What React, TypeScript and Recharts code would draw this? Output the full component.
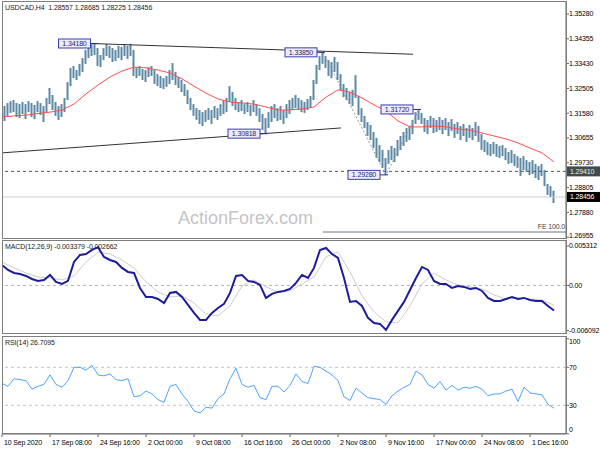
import React from 'react'
import { ComposedChart, LineChart, Line, Bar, XAxis, YAxis, ReferenceLine, ReferenceDot } from 'recharts'

const FONT = '"Liberation Sans", Arial, sans-serif'
const FS = 7

// H4 bar index of each time label (one label every 32 bars)
const timeTicks = [0, 32, 64, 96, 128, 160, 192, 224, 256, 288, 320, 352]
const timeLabels = ['10 Sep 2020', '17 Sep 08:00', '24 Sep 16:00', '2 Oct 00:00', '9 Oct 08:00', '16 Oct 16:00', '26 Oct 00:00', '2 Nov 08:00', '9 Nov 16:00', '17 Nov 00:00', '24 Nov 08:00', '1 Dec 16:00']

const priceTicks = [1.26955, 1.2788, 1.28805, 1.2973, 1.30655, 1.3158, 1.32505, 1.3343, 1.34355, 1.3528]
const macdTicks = [-0.006092, 0, 0.005312]
const rsiTicks = [0, 30, 70, 100]

// price range, one entry every 2 bars
const priceHigh = [
  1.3192, 1.3185, 1.3196, 1.3203, 1.3207, 1.3196, 1.3192, 1.32, 1.3192, 1.3203,
  1.3196, 1.3189, 1.3203, 1.3196, 1.3185, 1.3215, 1.3252, 1.3226, 1.32, 1.3185,
  1.3192, 1.3215, 1.3274, 1.3327, 1.3334, 1.3319, 1.3342, 1.3364, 1.3394, 1.3401,
  1.3416, 1.3418, 1.3401, 1.3375, 1.3401, 1.3416, 1.3409, 1.3401, 1.3394, 1.3409,
  1.3405, 1.3416, 1.3409, 1.3417, 1.3394, 1.3327, 1.3334, 1.3323, 1.3319, 1.333,
  1.3334, 1.3319, 1.3304, 1.3297, 1.3289, 1.3297, 1.3319, 1.3345, 1.3312, 1.3293,
  1.3282, 1.3267, 1.3245, 1.3215, 1.3192, 1.3177, 1.317, 1.3162, 1.317, 1.3177,
  1.317, 1.3185, 1.3177, 1.3192, 1.3207, 1.3215, 1.3259, 1.3237, 1.3215, 1.32,
  1.3207, 1.3192, 1.32, 1.3189, 1.3207, 1.3192, 1.3177, 1.3155, 1.314, 1.3162,
  1.3185, 1.3192, 1.3177, 1.3185, 1.317, 1.3192, 1.3207, 1.3215, 1.3226, 1.3215,
  1.3207, 1.32, 1.3211, 1.3222, 1.3282, 1.3338, 1.3371, 1.3385, 1.3371, 1.3356,
  1.3349, 1.3368, 1.3349, 1.3304, 1.3267, 1.3252, 1.3237, 1.3245, 1.33, 1.3222,
  1.3177, 1.3148, 1.3125, 1.3114, 1.3088, 1.3066, 1.3039, 1.3021, 1.2991, 1.3021,
  1.3036, 1.3028, 1.3058, 1.3073, 1.3088, 1.3103, 1.311, 1.3133, 1.3162, 1.3172,
  1.3159, 1.314, 1.3133, 1.3148, 1.314, 1.3133, 1.3144, 1.3133, 1.314, 1.3125,
  1.3136, 1.3118, 1.3125, 1.311, 1.3118, 1.3103, 1.3114, 1.3103, 1.3125, 1.311,
  1.308, 1.3058, 1.3051, 1.3043, 1.3051, 1.3043, 1.3036, 1.3039, 1.3028, 1.3013,
  1.3021, 1.3006, 1.2998, 1.2991, 1.2998, 1.2983, 1.2976, 1.2983, 1.2969, 1.2961,
  1.2969, 1.2946, 1.2894, 1.2886, 1.2869,
]
const priceLow = [
  1.314, 1.3129, 1.3148, 1.3159, 1.3162, 1.3144, 1.314, 1.3155, 1.3136, 1.3162,
  1.3144, 1.3136, 1.3162, 1.3151, 1.3125, 1.3162, 1.3192, 1.317, 1.3148, 1.3133,
  1.3144, 1.3162, 1.3207, 1.3259, 1.3289, 1.3282, 1.3297, 1.3312, 1.3342, 1.3364,
  1.3371, 1.3375, 1.3334, 1.333, 1.3356, 1.3371, 1.3364, 1.3349, 1.3353, 1.3364,
  1.3356, 1.3371, 1.336, 1.3371, 1.3297, 1.3289, 1.3297, 1.3282, 1.3274, 1.3293,
  1.3297, 1.3267, 1.3259, 1.3252, 1.3248, 1.3256, 1.3267, 1.3282, 1.3263, 1.3252,
  1.3237, 1.3222, 1.3192, 1.317, 1.3148, 1.3133, 1.3118, 1.311, 1.3125, 1.3133,
  1.3118, 1.314, 1.3133, 1.3148, 1.3155, 1.3162, 1.32, 1.3185, 1.317, 1.3162,
  1.3166, 1.3155, 1.3162, 1.3148, 1.3162, 1.3148, 1.3125, 1.3095, 1.3082, 1.3103,
  1.3125, 1.314, 1.3129, 1.3133, 1.3118, 1.314, 1.3155, 1.317, 1.3177, 1.317,
  1.3162, 1.3159, 1.317, 1.3177, 1.3207, 1.3267, 1.3319, 1.3342, 1.3327, 1.3297,
  1.3289, 1.3312, 1.3282, 1.3245, 1.3218, 1.3207, 1.3192, 1.3185, 1.3215, 1.3151,
  1.3125, 1.3103, 1.3073, 1.3058, 1.3028, 1.2991, 1.2976, 1.2954, 1.2928, 1.2969,
  1.2983, 1.2976, 1.2998, 1.3021, 1.3036, 1.3051, 1.3058, 1.308, 1.3118, 1.3133,
  1.3118, 1.3088, 1.308, 1.3103, 1.3084, 1.3088, 1.3095, 1.308, 1.3095, 1.3073,
  1.3092, 1.3066, 1.308, 1.3058, 1.3073, 1.3051, 1.3066, 1.3058, 1.3073, 1.3051,
  1.3021, 1.3013, 1.3002, 1.2998, 1.3006, 1.2995, 1.2991, 1.2998, 1.2983, 1.2969,
  1.2972, 1.2961, 1.2954, 1.2924, 1.2946, 1.2939, 1.2927, 1.2931, 1.2916, 1.2909,
  1.2924, 1.2886, 1.2853, 1.2845, 1.2823,
]

// moving average, one entry every 8 bars
const maValues = [
  1.3144, 1.3148, 1.3151, 1.3157, 1.3162, 1.317, 1.3192, 1.323, 1.3263, 1.3293,
  1.3315, 1.333, 1.3327, 1.3319, 1.3308, 1.3286, 1.3259, 1.3233, 1.3211, 1.32,
  1.3196, 1.3192, 1.3181, 1.317, 1.317, 1.3174, 1.3181, 1.3218, 1.3245, 1.3237,
  1.3215, 1.3189, 1.3166, 1.3129, 1.3107, 1.3107, 1.311, 1.3107, 1.3099, 1.3095,
  1.3084, 1.3073, 1.3062, 1.3047, 1.3028, 1.301, 1.2976,
]

// MACD main line, one entry every 4 bars
const macdValues = [
  0.00276, 0.00209, 0.00168, 0.00155, 0.00128, 0.00087, 0.00061, 0.00074, 0.00141, 0.00047,
  0.0002, 0.00061, 0.00316, 0.00411, 0.00424, 0.00478, 0.00515, 0.00384, 0.00343, 0.00316,
  0.00236, 0.00182, 0.00168, -0.00034, -0.00155, -0.00155, -0.00182, -0.00236, -0.00101, -0.00087,
  -0.00155, -0.00262, -0.0037, -0.00464, -0.00464, -0.0037, -0.00303, -0.00249, -0.00101, 0.00128,
  0.00141, 0.00061, 0.00047, 0.00007, -0.00168, -0.00114, -0.00087, -0.00074, -0.00047, 0.00034,
  0.00141, 0.00101, 0.00236, 0.00478, 0.00505, 0.00424, 0.0037, 0.00101, -0.00222, -0.00209,
  -0.00276, -0.00437, -0.00505, -0.00518, -0.00599, -0.00464, -0.00343, -0.00222, -0.00061, 0.00101,
  0.00249, 0.00209, 0.00061, 0.0002, 0.0002, -0.00034, -0.00007, -0.0002, -0.00047, -0.00034,
  -0.00074, -0.00168, -0.00209, -0.00209, -0.00182, -0.00155, -0.00182, -0.00168, -0.00195, -0.00209,
  -0.00209, -0.00276, -0.00338,
]
// MACD signal, one entry every 8 bars
const signalValues = [
  0.00316, 0.00236, 0.00168, 0.00114, 0.00101, 0.00074, 0.00128, 0.00316, 0.00451, 0.00424,
  0.00343, 0.00236, 0.00047, -0.00087, -0.00155, -0.00141, -0.00236, -0.00384, -0.00411, -0.00276,
  -0.00007, 0.00074, -0.0002, -0.00087, -0.00074, 0.0002, 0.00114, 0.00384, 0.00451, 0.00182,
  -0.00141, -0.00357, -0.00491, -0.00505, -0.00276, 0.0002, 0.00168, 0.00074, 0.00007, -0.0002,
  -0.00047, -0.00128, -0.00182, -0.00168, -0.00182, -0.00195, -0.00266,
]

// RSI(14), one entry every 4 bars
const rsiValues = [
  53, 50, 58, 57, 56, 47, 50, 52, 62, 52,
  49, 56, 70, 70, 67, 72, 62, 61, 63, 57,
  56, 58, 39, 40, 45, 42, 36, 33, 50, 52,
  42, 34, 24, 22, 28, 27, 37, 42, 58, 69,
  52, 49, 51, 38, 36, 50, 50, 44, 51, 63,
  55, 53, 71, 70, 66, 62, 56, 39, 35, 48,
  43, 38, 37, 36, 31, 40, 45, 49, 52, 66,
  62, 52, 48, 55, 46, 51, 46, 49, 48, 50,
  47, 40, 42, 42, 45, 47, 34, 49, 43, 42,
  41, 31, 27,
]

// swing points marked on the chart
const pivotBars = [63, 214, 176, 256, 278]
const pivotPrices = [1.3418, 1.3385, 1.30818, 1.2928, 1.3172]

// trend lines: [start bar, start price, end bar, end price]
const upperTrend = [59, 1.3418, 274, 1.3378]
const lowerTrend = [0, 1.301, 226, 1.3103]
// fibonacci expansion: A-B-C points and the 100% level
const feBars = [214, 256, 278]
const fePrices = [1.3385, 1.2928, 1.3172]
const fe100 = 1.2715

const markedLevel = 1.2941
const bid = 1.28456

const bars = priceHigh.map((h, k) => ({ i: k * 2, range: [priceLow[k], h] }))
const maData = maValues.map((v, k) => ({ i: k * 8, v }))
const macdData = macdValues.map((v, k) => ({ i: k * 4, v }))
const signalData = signalValues.map((v, k) => ({ i: k * 8, v }))
const rsiData = rsiValues.map((v, k) => ({ i: k * 4, v }))
const feData = feBars.map((b, k) => ({ i: b, v: fePrices[k] }))

const txt = { fontSize: FS, fontFamily: FONT, letterSpacing: -0.15 }

const PivotTag = ({ cx, cy, text }: any) => (
  <g>
    <line x1={cx - 6} y1={cy} x2={cx + 2} y2={cy} stroke='#2a2a8c' />
    <rect x={cx - 38} y={cy - 4.5} width={32} height={9} fill='#ececf8' stroke='#3c3cb4' />
    <text x={cx - 22} y={cy + 2.5} textAnchor='middle' {...txt} fill='#1e1e78'>{text}</text>
  </g>
)

const axisBox = (text: string, bg: string, fg: string) => (p: any) => {
  const vb = p.viewBox
  const x = vb.x + vb.width
  return (
    <g>
      <rect x={x} y={vb.y - 5} width={34} height={10} fill={bg} />
      <text x={x + 4} y={vb.y + 2.5} {...txt} fill={fg}>{text}</text>
    </g>
  )
}

// right-axis label; edge labels are nudged inside the panel like the terminal does
const sideTick = (fmt: (v: number) => string, top: number, bottom: number, down: number, up: number) => ({ x, y, payload }: any) => {
  const v = payload.value
  const shift = v === top ? down : v === bottom ? -up : 0
  return (
    <text x={x} y={y + shift} dy='0.355em' {...txt} fill='#000'>{fmt(v)}</text>
  )
}

const PriceTick = sideTick((v) => v.toFixed(5), 999, 1.26955, 0, 2)
const MacdTick = sideTick((v) => (v === 0 ? '0.00' : v.toFixed(6)), 999, 999, 0, 0)
const RsiTick = sideTick((v) => String(v), 100, 0, 3, 4)

const TimeTick = ({ x, y, payload }: any) => (
  <text x={x + 2} y={y + 5.5} {...txt} fill='#000'>
    {timeLabels[timeTicks.indexOf(payload.value)]}
  </text>
)

const frame = (top: number, height: number): React.CSSProperties => ({
  position: 'absolute', left: 2, top, width: 565, height, boxSizing: 'border-box',
  border: '1px solid #7d7d7d', pointerEvents: 'none',
})

const caption = (top: number): React.CSSProperties => ({
  position: 'absolute', left: 5, top, fontSize: FS, fontFamily: FONT, color: '#222',
  whiteSpace: 'pre', lineHeight: '10px', letterSpacing: -0.1,
})

const sideAxis = {
  orientation: 'right' as const, width: 34, interval: 0 as const, tickSize: 3, tickMargin: 0,
  axisLine: { stroke: '#666' }, tickLine: { stroke: '#666' }, allowDataOverflow: true,
}

export default function App() {
  return (
    <div style={{ position: 'fixed', left: 0, top: 0, width: 600, height: 450, background: '#fff', overflow: 'hidden' }}>
      <div style={{ position: 'absolute', left: 178, top: 209, fontSize: 18, fontFamily: 'Arial, "Liberation Sans", sans-serif', color: '#c4c4c4', lineHeight: '18px' }}>
        ActionForex.com
      </div>

      <div style={{ position: 'absolute', left: 0, top: 0 }}>
        <ComposedChart width={600} height={240} data={bars} margin={{ top: 2, right: 0, bottom: 2, left: 2 }}>
          <XAxis type='number' dataKey='i' domain={[0, 376]} hide allowDataOverflow />
          <YAxis {...sideAxis} domain={[1.26925, 1.35728]} ticks={priceTicks} tick={<PriceTick />} />
          <ReferenceLine y={bid} stroke='#cfcfcf' label={axisBox(bid.toFixed(5), '#000', '#fff')} />
          <ReferenceLine y={markedLevel} stroke='#4a5a5a' strokeDasharray='3 3'
            label={axisBox(markedLevel.toFixed(5), '#3e4e4e', '#e8e8e8')} />
          <ReferenceLine segment={[{ x: feBars[0], y: fe100 }, { x: 376, y: fe100 }]} stroke='#9aa4ac' strokeWidth={1.5}
            label={(p: any) => (
              <text x={p.viewBox.x + p.viewBox.width - 1} y={p.viewBox.y - 3} textAnchor='end' {...txt} fill='#444'>FE 100.0</text>
            )} />
          <ReferenceLine segment={[{ x: upperTrend[0], y: upperTrend[1] }, { x: upperTrend[2], y: upperTrend[3] }]} stroke='#333' />
          <ReferenceLine segment={[{ x: lowerTrend[0], y: lowerTrend[1] }, { x: lowerTrend[2], y: lowerTrend[3] }]} stroke='#333' />
          <Bar dataKey='range' fill='#5e89a5' barSize={2} isAnimationActive={false} />
          <Line data={feData} dataKey='v' stroke='#8c96a0' strokeDasharray='2 2' dot={false} isAnimationActive={false} />
          <Line data={maData} dataKey='v' stroke='#ff4d4d' dot={false} isAnimationActive={false} />
          {pivotBars.map((b, j) => (
            <ReferenceDot key={j} x={b} y={pivotPrices[j]} r={0}
              shape={(p: any) => <PivotTag cx={p.cx} cy={p.cy} text={pivotPrices[j].toFixed(5)} />} />
          ))}
        </ComposedChart>
      </div>

      <div style={{ position: 'absolute', left: 0, top: 239 }}>
        <LineChart width={600} height={96} margin={{ top: 2, right: 0, bottom: 1, left: 2 }}>
          <XAxis type='number' dataKey='i' domain={[0, 376]} hide allowDataOverflow />
          <YAxis {...sideAxis} domain={[-0.00654, 0.005985]} ticks={macdTicks} tick={<MacdTick />} />
          <ReferenceLine y={0} stroke='#b4b4b4' strokeDasharray='3 3' />
          <Line data={signalData} dataKey='v' stroke='#cdcdcd' dot={false} isAnimationActive={false} />
          <Line data={macdData} dataKey='v' stroke='#1c1c9c' strokeWidth={2} dot={false} isAnimationActive={false} />
        </LineChart>
      </div>

      <div style={{ position: 'absolute', left: 0, top: 335 }}>
        <LineChart width={600} height={115} data={rsiData} margin={{ top: 2, right: 0, bottom: 0, left: 2 }}>
          <XAxis type='number' dataKey='i' domain={[0, 376]} ticks={timeTicks} interval={0} height={16}
            tick={<TimeTick />} tickSize={3} tickMargin={2} axisLine={{ stroke: '#666' }} tickLine={{ stroke: '#666' }} allowDataOverflow />
          <YAxis {...sideAxis} domain={[-0.2, 101.9]} ticks={rsiTicks} tick={<RsiTick />} />
          <ReferenceLine y={70} stroke='#c4c4c4' strokeDasharray='3 3' />
          <ReferenceLine y={30} stroke='#c4c4c4' strokeDasharray='3 3' />
          <Line dataKey='v' stroke='#4da3ff' dot={false} isAnimationActive={false} />
        </LineChart>
      </div>

      <div style={frame(1, 238)} />
      <div style={frame(240, 94)} />
      <div style={frame(336, 98)} />

      <div style={caption(3)}>USDCAD,H4  1.28557 1.28685 1.28225 1.28456</div>
      <div style={caption(242)}>MACD(12,26,9) -0.003379 -0.002662</div>
      <div style={caption(338)}>RSI(14) 26.7095</div>
    </div>
  )
}
